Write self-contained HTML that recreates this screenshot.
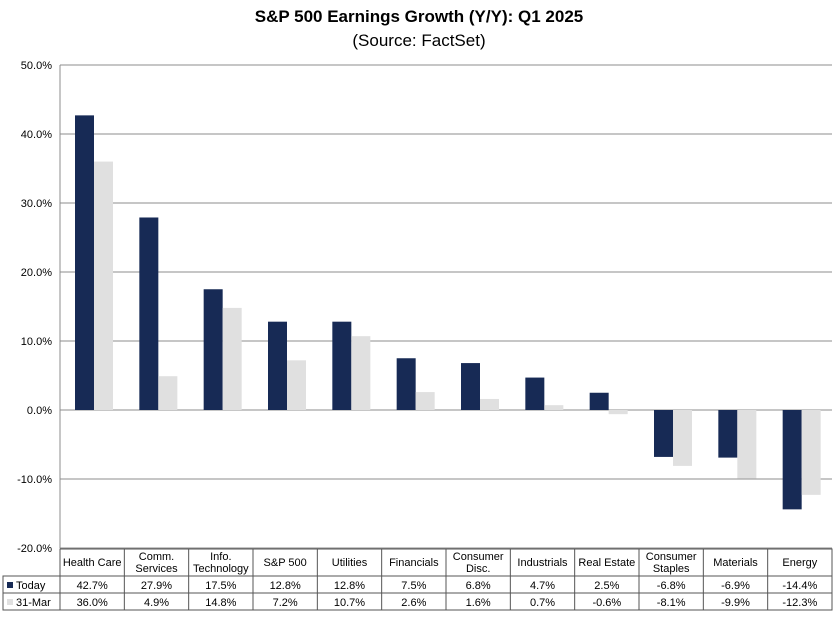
<!DOCTYPE html>
<html><head><meta charset="utf-8"><style>
body{margin:0;background:#fff;font-family:"Liberation Sans",sans-serif;}
svg text{font-family:"Liberation Sans",sans-serif;}
</style></head><body>
<svg width="838" height="613" id="c">
<text x="419" y="22" text-anchor="middle" font-size="17" font-weight="bold">S&amp;P 500 Earnings Growth (Y/Y): Q1 2025</text>
<text x="419" y="46" text-anchor="middle" font-size="17">(Source: FactSet)</text>
<g id="grid"></g><g id="bars"></g><g id="table"></g>
</svg>
<script>
const categories=[["Health Care"],["Comm.","Services"],["Info.","Technology"],["S&P 500"],["Utilities"],["Financials"],["Consumer","Disc."],["Industrials"],["Real Estate"],["Consumer","Staples"],["Materials"],["Energy"]];
const today=[42.7,27.9,17.5,12.8,12.8,7.5,6.8,4.7,2.5,-6.8,-6.9,-14.4];
const march=[36.0,4.9,14.8,7.2,10.7,2.6,1.6,0.7,-0.6,-8.1,-9.9,-12.3];
const ticks=[50,40,30,20,10,0,-10,-20];
const NS="http://www.w3.org/2000/svg";
const L=60,R=832,T=65,B=548,vmax=50,vmin=-20;
const y=v=>T+(vmax-v)/(vmax-vmin)*(B-T);
const cw=(R-L)/categories.length;
const x=i=>L+i*cw;
function mk(tag,attrs,parent,text){const e=document.createElementNS(NS,tag);for(const k in attrs)e.setAttribute(k,attrs[k]);if(text!==undefined)e.textContent=text;parent.appendChild(e);return e;}
const grid=document.getElementById('grid'),bars=document.getElementById('bars'),table=document.getElementById('table');
ticks.forEach(t=>{
 const l=mk('line',{x1:L,x2:R,y1:y(t),y2:y(t),stroke:'#8c8c8c','stroke-width':1},grid);
 
 
 const tx=mk('text',{x:L-8,y:y(t)+4,'text-anchor':'end','font-size':11},grid,t.toFixed(1)+'%');
 
 
});
const ax=mk('line',{x1:L,x2:L,y1:T,y2:B,stroke:'#8c8c8c'},grid);


const bw=19;
categories.forEach((c,i)=>{
 [[today[i],'#172a55',15],[march[i],'#e0e0e0',15+bw]].forEach(([v,col,off],k)=>{
  const y0=y(Math.max(v,0)),h=Math.abs(y(v)-y(0));
  const r=mk('rect',{x:x(i)+off,y:y0,width:bw,height:h,fill:col},bars);
  
  
 });
});
// table
const h0=549,h1=576,h2=593,h3=610,tl=3;
const tb=mk('rect',{x:L,y:h0,width:R-L,height:h3-h0,fill:'none',stroke:'#555'},table);


mk('rect',{x:tl,y:h1,width:L-tl,height:h3-h1,fill:'none',stroke:'#555'},table);
[h1,h2].forEach(yy=>mk('line',{x1:tl,x2:R,y1:yy,y2:yy,stroke:'#555'},table));
categories.forEach((c,i)=>{
 if(i>0)mk('line',{x1:x(i),x2:x(i),y1:h0,y2:h3,stroke:'#555'},table);
 const cx=x(i)+cw/2;
 if(c.length==1){const t=mk('text',{x:cx,y:h0+17,'text-anchor':'middle','font-size':11},table,c[0]);}
 else{c.forEach((s,j)=>{const t=mk('text',{x:cx,y:h0+11+j*12,'text-anchor':'middle','font-size':11},table,s);});}
 const a=mk('text',{x:cx,y:h1+13,'text-anchor':'middle','font-size':11},table,today[i].toFixed(1)+'%');
 
 
 const b=mk('text',{x:cx,y:h2+13,'text-anchor':'middle','font-size':11},table,march[i].toFixed(1)+'%');
 
 
});
mk('rect',{x:tl+4,y:h1+6,width:6,height:6,fill:'#172a55'},table);
const lt=mk('text',{x:tl+13,y:h1+13,'font-size':11},table,'Today');


mk('rect',{x:tl+4,y:h2+6,width:6,height:6,fill:'#e0e0e0'},table);
const lm=mk('text',{x:tl+13,y:h2+13,'font-size':11},table,'31-Mar');


</script>
</body></html>
